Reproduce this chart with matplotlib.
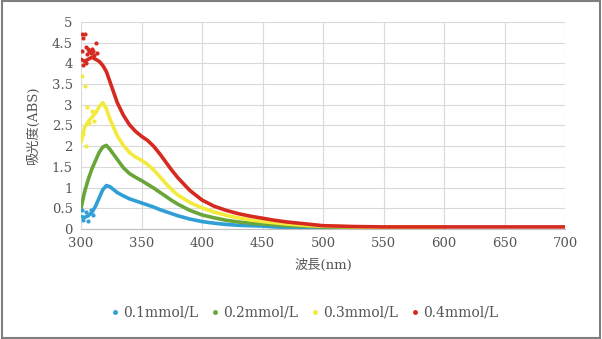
import numpy as np
import matplotlib.pyplot as plt
from matplotlib.patches import Rectangle

# wavelength (nm) / absorbance
wl = [300, 303, 306, 309, 312, 315, 318, 321, 324, 327, 330, 335, 340, 345, 350, 355, 360,
      365, 370, 375, 380, 390, 400, 410, 420, 430, 440, 450, 460, 470, 480, 490, 500,
      525, 550, 575, 600]
abs_01 = [0.30, 0.28, 0.32, 0.40, 0.55, 0.75, 0.95, 1.05, 1.02, 0.95, 0.88, 0.80, 0.73,
          0.68, 0.63, 0.58, 0.53, 0.47, 0.42, 0.37, 0.32, 0.24, 0.18, 0.14, 0.11, 0.09,
          0.08, 0.07, 0.05, 0.04, 0.03, 0.03, 0.02, 0.02, 0.01, 0.01, 0.01]
abs_02 = [0.50, 0.90, 1.20, 1.45, 1.65, 1.85, 1.98, 2.02, 1.92, 1.80, 1.68, 1.48, 1.34,
          1.25, 1.17, 1.08, 0.99, 0.89, 0.79, 0.69, 0.60, 0.45, 0.34, 0.27, 0.21, 0.17,
          0.14, 0.12, 0.10, 0.08, 0.07, 0.06, 0.05, 0.04, 0.03, 0.03, 0.02]
abs_03 = [2.10, 2.45, 2.60, 2.70, 2.80, 2.95, 3.05, 2.90, 2.65, 2.45, 2.25, 2.02, 1.85,
          1.74, 1.66, 1.56, 1.43, 1.27, 1.10, 0.95, 0.82, 0.64, 0.51, 0.41, 0.33, 0.27,
          0.22, 0.18, 0.15, 0.12, 0.10, 0.08, 0.07, 0.05, 0.04, 0.04, 0.04]
wl_04 = wl + [650, 700]
abs_04 = [4.10, 4.05, 4.10, 4.15, 4.10, 4.05, 3.95, 3.80, 3.55, 3.30, 3.05, 2.75, 2.52,
          2.36, 2.24, 2.14, 2.00, 1.82, 1.62, 1.42, 1.24, 0.93, 0.70, 0.55, 0.45, 0.37,
          0.31, 0.26, 0.21, 0.17, 0.14, 0.11, 0.08, 0.06, 0.05, 0.05, 0.05, 0.05, 0.05]

# scattered noisy points at the short-wavelength end
noise_wl_04 = [301, 302, 303, 304, 301, 305, 306, 307, 308, 309, 310, 312, 311, 302, 304, 313]
noise_abs_04 = [4.72, 4.62, 4.70, 4.40, 4.30, 4.22, 4.35, 4.30, 4.25, 4.35, 4.30, 4.50,
                4.20, 3.95, 4.00, 4.25]
noise_wl_03 = [301, 303, 305, 302, 307, 309, 311, 304]
noise_abs_03 = [3.70, 3.45, 2.95, 2.30, 2.55, 2.85, 2.60, 2.00]
noise_wl_01 = [301, 302, 304, 306, 308, 310]
noise_abs_01 = [0.45, 0.22, 0.40, 0.20, 0.45, 0.35]

labels = ['0.1mmol/L', '0.2mmol/L', '0.3mmol/L', '0.4mmol/L']
colors = ['#2f9fd6', '#6aa53a', '#f2ea3c', '#d6291f']

plt.rcParams['font.family'] = ['DejaVu Serif', 'Noto Sans CJK JP']

fig = plt.figure(figsize=(6.02, 3.39), dpi=100)
ax = fig.add_axes([81/602, 1-229/339, (565-81)/602, (229-22)/339])

series = [(wl, abs_01), (wl, abs_02), (wl, abs_03), (wl_04, abs_04)]
for (x, y), c, lab in zip(series, colors, labels):
    ax.plot(x, y, color=c, lw=2.6, solid_capstyle='round')
    ax.plot([], [], ls='none', marker='o', ms=2.5, color=c, label=lab)

ax.scatter(noise_wl_04, noise_abs_04, s=4, color=colors[3], zorder=3)
ax.scatter(noise_wl_03, noise_abs_03, s=4, color=colors[2], zorder=3)
ax.scatter(noise_wl_01, noise_abs_01, s=4, color=colors[0], zorder=3)

ax.set_xlim(300, 700)
ax.set_ylim(0, 5)
ax.set_xticks(range(300, 701, 50))
ax.set_yticks(np.arange(0, 5.01, 0.5))
ax.set_yticklabels(['0', '0.5', '1', '1.5', '2', '2.5', '3', '3.5', '4', '4.5', '5'])
ax.grid(color='#d9d9d9', lw=0.8)
ax.set_axisbelow(True)
for s in ['top', 'right', 'left']:
    ax.spines[s].set_visible(False)
ax.spines['bottom'].set_color('#bfbfbf')
ax.tick_params(length=0, labelsize=9.5, colors='#555555', pad=6)

ax.set_xlabel('波長(nm)', fontsize=9.5, color='#555555', labelpad=6)
ax.set_ylabel('吸光度(ABS)', fontsize=9.5, color='#555555', labelpad=8)

fig.legend(loc='center', bbox_to_anchor=(305/602, 1-313/339), ncol=4, frameon=False,
           fontsize=10, handlelength=0.5, handletextpad=0.3, columnspacing=1.0,
           labelcolor='#555555')

fig.patches.append(Rectangle((0.004, 0.004), 0.992, 0.992, transform=fig.transFigure,
                             fill=False, edgecolor='#7f7f7f', lw=1.5))

fig.savefig('out.png', dpi=100)
